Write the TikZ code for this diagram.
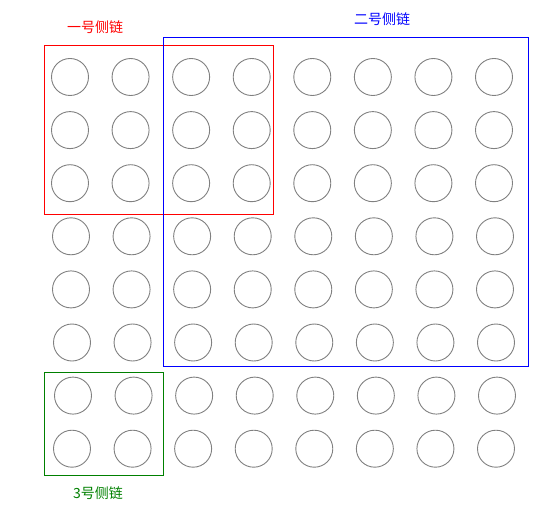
\documentclass[tikz,border=0pt]{standalone}
\usepackage{fontspec}
\newfontfamily\cjk{Noto Sans CJK SC}
\begin{document}
\begin{tikzpicture}[x=1bp,y=-1bp,
  hole/.style={circle,draw=black!50,line width=0.9bp,minimum size=37bp,inner sep=0pt},
  frame/.style={line width=1bp},
  lbl/.style={font=\cjk\fontsize{14bp}{16bp}\selectfont,inner sep=0pt}]
\useasboundingbox (0,0) rectangle (558,522);
\foreach \r/\off in {1/70,2/70,3/70,4/71,5/71,6/72,7/73,8/72}{
  \foreach \c in {1,...,8}{
    \node[hole] (c-\r-\c) at ({\off+60.57*(\c-1)},{77+53.1*(\r-1)}) {};
  }
}
\draw[frame,red] (44.3,45.7) rectangle (273.3,214);
\draw[frame,blue] (163.3,37.3) rectangle (528.3,366);
\draw[frame,green!50!black] (44.3,372.3) rectangle (163.3,475.3);
\node[lbl,text=red] (l1) at (95,27.5) {一号侧链};
\node[lbl,text=blue] (l2) at (382,19) {二号侧链};
\node[lbl,text=green!50!black] (l3) at (98,493) {3号侧链};
\end{tikzpicture}
\end{document}
